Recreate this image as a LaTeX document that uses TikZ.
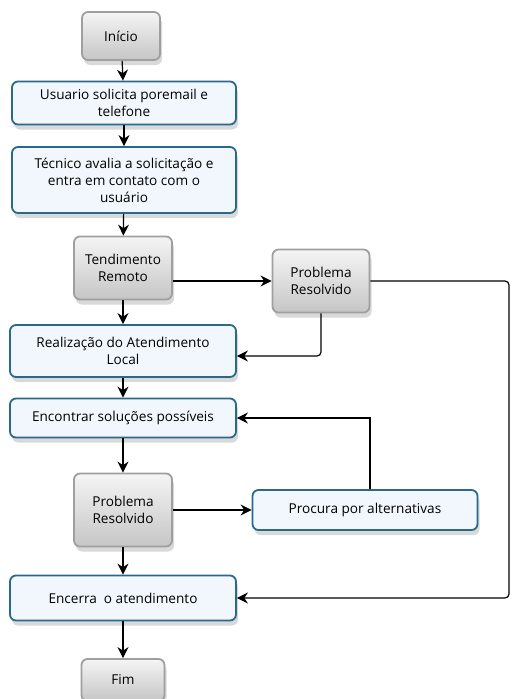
\documentclass[tikz,border=0pt]{standalone}
\usepackage{fontspec}
\setmainfont{Open Sans}
\usepackage{tikz}
\usetikzlibrary{arrows.meta, shadows, positioning}
\definecolor{boxblue}{RGB}{40,105,140}
\definecolor{boxfill}{RGB}{241,247,252}

\begin{document}
\begin{tikzpicture}[x=1pt,y=-1pt,->,>={Stealth[length=11pt,width=11pt]},line width=1.2pt,
                    font=\fontsize{13.6}{17}\selectfont]
  \tikzstyle{blue box}=[draw=boxblue,line width=1.8pt,fill=boxfill,rounded corners=6pt,
                        align=center,inner sep=0pt,
                        drop shadow={opacity=0.3,shadow xshift=2pt,shadow yshift=-5pt}]
  \tikzstyle{gray box}=[draw=gray!75,line width=1.8pt,top color=gray!8,bottom color=gray!45,
                        rounded corners=6pt,align=center,inner sep=0pt,
                        drop shadow={opacity=0.3,shadow xshift=2pt,shadow yshift=-5pt}]
  \useasboundingbox (0,0) rectangle (512,699);

  \node[gray box,minimum width=78pt,minimum height=48pt]  (ini)  at (121,36)  {Início};
  \node[blue box,minimum width=224pt,minimum height=43pt] (usu)  at (124,103) {Usuario solicita poremail e\\telefone};
  \node[blue box,minimum width=224pt,minimum height=66pt] (tec)  at (124,180) {Técnico avalia a solicitação e\\entra em contato com o\\usuário};
  \node[gray box,minimum width=98pt,minimum height=63pt]  (tend) at (123,268) {Tendimento\\Remoto};
  \node[gray box,minimum width=97pt,minimum height=63pt]  (res1) at (321,281) {Problema\\Resolvido};
  \node[blue box,minimum width=226pt,minimum height=52pt] (real) at (123,351) {Realização do Atendimento\\Local};
  \node[blue box,minimum width=226pt,minimum height=39pt] (enc)  at (123,418) {Encontrar soluções possíveis};
  \node[gray box,minimum width=98pt,minimum height=73pt]  (res2) at (123,510) {Problema\\Resolvido};
  \node[blue box,minimum width=225pt,minimum height=40pt] (proc) at (365,510) {Procura por alternativas};
  \node[blue box,minimum width=226pt,minimum height=45pt] (fech) at (123,598) {Encerra \ o atendimento};
  \node[gray box,minimum width=83pt,minimum height=42pt]  (fim)  at (123,680) {Fim};
  \coordinate (rgt) at (509,0);

  % fluxo principal
  \draw (ini) -- (usu);
  \draw (usu) -- (tec);
  \draw (tec) -- (tend);
  \draw (tend) -- (real);
  \draw (real) -- (enc);
  \draw (enc) -- (res2);
  \draw (res2) -- (fech);
  \draw (fech) -- (fim);

  % desvios
  \draw (tend.east |- res1.west) -- (res1.west);
  \draw[rounded corners=4pt] (res1.south) |- ([yshift=-5pt]real.east);
  \draw[rounded corners=4pt] (res1.east) -- (res1.east -| rgt) |- (fech.east);
  \draw (res2) -- (proc);
  \draw ([xshift=5pt]proc.north) |- (enc.east);
\end{tikzpicture}
\end{document}
